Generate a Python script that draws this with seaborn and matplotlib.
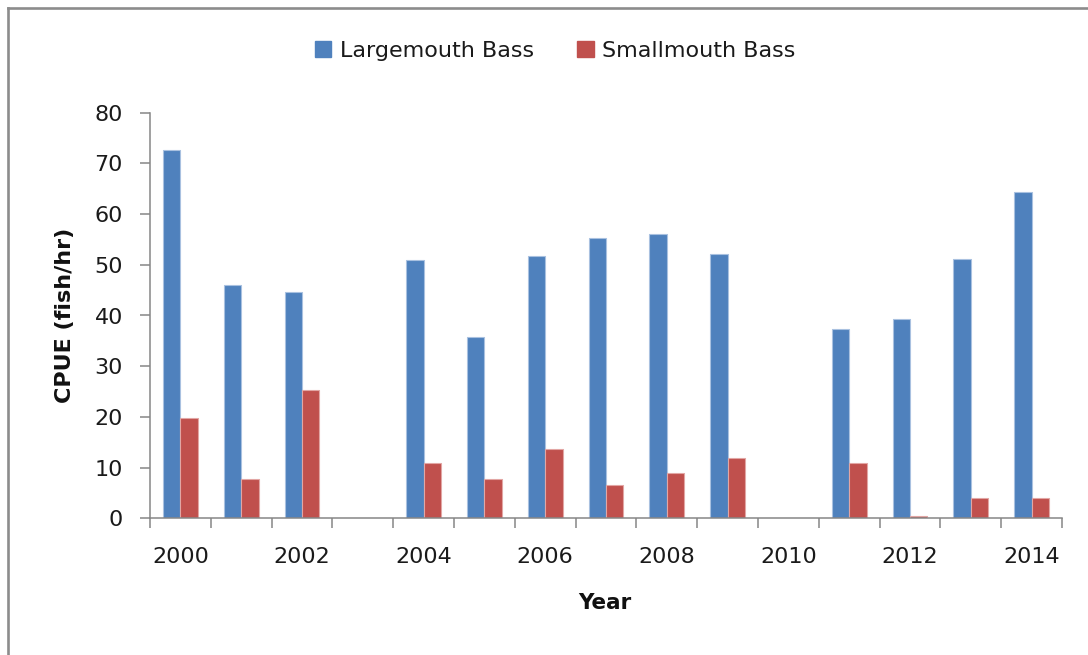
import numpy as np
import pandas as pd
import matplotlib
matplotlib.use("Agg")
import matplotlib.pyplot as plt
from matplotlib.lines import Line2D
from matplotlib.patches import Patch
import seaborn as sns

# Electrofishing catch rates by year (fish per hour); blank years were not sampled
years = [str(y) for y in range(2000, 2015)]
largemouth = [72.6, 46.1, 44.6, np.nan, 50.9, 35.8, 51.8, 55.2, 56.1, 52.1,
              np.nan, 37.4, 39.4, 51.2, 64.4]
smallmouth = [19.7, 7.8, 25.4, np.nan, 11.0, 7.8, 13.7, 6.6, 8.9, 11.8,
              np.nan, 11.0, 0.4, 4.1, 4.1]
species = ["Largemouth Bass", "Smallmouth Bass"]
colors = ["#4F81BD", "#C0504D"]
edges = ["#A9C1E0", "#E2A6A4"]
y_ticks = [0, 10, 20, 30, 40, 50, 60, 70, 80]

df = pd.DataFrame({
    "Year": years * 2,
    "Species": [species[0]] * len(years) + [species[1]] * len(years),
    "CPUE": largemouth + smallmouth,
}).dropna()

sns.set_theme(style="white")
plt.rcParams["font.family"] = ["DejaVu Sans"]

fig = plt.figure(figsize=(10.88, 6.55), dpi=100)
ax = fig.add_axes([150 / 1088, 1 - 518.3 / 655, 912 / 1088, 405.6 / 655])

sns.barplot(data=df, x="Year", y="CPUE", hue="Species", order=years,
            hue_order=species, palette=colors, width=0.57, errorbar=None,
            saturation=1, ax=ax, linewidth=0.8)

# light rim around each bar
for container, ec in zip(ax.containers, edges):
    for bar in container:
        bar.set_edgecolor(ec)

ax.set_xlim(-0.5, len(years) - 0.5)
ax.set_ylim(0, 80)
ax.set_yticks(y_ticks)

# category boundaries carry the tick marks; every other year is labeled
ax.set_xticks(np.arange(0, len(years), 2))
ax.set_xticklabels(years[::2])
ax.set_xticks(np.arange(-0.5, len(years), 1), minor=True)
ax.tick_params(axis="x", which="major", length=0, pad=21, labelsize=16,
               labelcolor="#1a1a1a")
ax.tick_params(axis="x", which="minor", length=7.5, width=1.1,
               color="#868686", direction="out", bottom=True)
ax.tick_params(axis="y", which="major", length=7.5, width=1.1,
               color="#868686", direction="out", left=True, pad=12,
               labelsize=16, labelcolor="#1a1a1a")

for side in ["top", "right"]:
    ax.spines[side].set_visible(False)
for side in ["left", "bottom"]:
    ax.spines[side].set_color("#868686")
    ax.spines[side].set_linewidth(1.1)

ax.set_ylabel("CPUE (fish/hr)", fontsize=16, fontweight="bold", color="#111111")
ax.yaxis.label.set_va("center")
ax.yaxis.set_label_coords(-0.093, 0.5)
ax.set_xlabel("Year", fontsize=15.5, fontweight="bold", color="#111111")
ax.xaxis.label.set_va("center")
ax.xaxis.set_label_coords(0.499, -0.209)

leg = ax.get_legend()
if leg is not None:
    leg.remove()
handles = [Patch(facecolor=c, edgecolor=c) for c in colors]
ax.legend(handles, species, loc="center", bbox_to_anchor=(555.3 / 1088, 1 - 51 / 655),
          bbox_transform=fig.transFigure, ncol=2, frameon=False, fontsize=16,
          handlelength=0.73, handleheight=0.73, handletextpad=0.4,
          columnspacing=1.95, labelcolor="#1a1a1a")

# outer chart frame: left and top edges only fall inside the canvas
fx = 7.5 / 1088
fy = 1 - 7.5 / 655
for xs, ys in [([fx, fx], [0, fy]), ([fx, 1], [fy, fy])]:
    fig.add_artist(Line2D(xs, ys, transform=fig.transFigure, color="#8c8c8c",
                          linewidth=1.9, solid_capstyle="projecting"))

fig.savefig("out.png", dpi=100)
